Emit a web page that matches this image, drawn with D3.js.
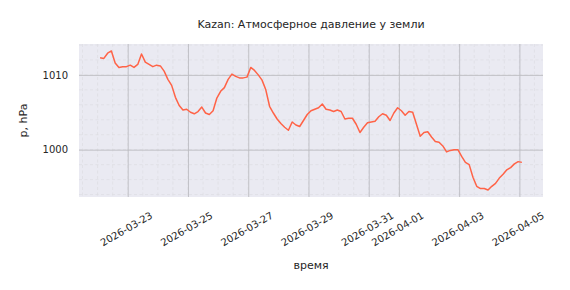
<!DOCTYPE html>
<html lang="ru">
<head>
    <meta charset="UTF-8">
    <title>Kazan</title>
    <script src="https://d3js.org/d3.v7.min.js"></script>
    <style>
        body { margin: 0; background: #fff; }
        text { font-family: "DejaVu Sans", sans-serif; fill: #262626; }
    </style>
</head>
<body>
    <div id="chart"></div>

    <script>
        // данные: давление каждые 3 часа, начиная с 2026-03-22 02:00 UTC
        var startTime = "2026-03-22T02:00:00Z";
        var stepHours = 3;
        var pressure = [
            1012.3, 1012.2, 1012.9, 1013.2, 1011.6, 1011.0, 1011.1, 1011.1, 1011.3, 1011.0,
            1011.4, 1012.8, 1011.7, 1011.4, 1011.1, 1011.3, 1011.2, 1010.5, 1009.4, 1008.6,
            1007.0, 1005.9, 1005.3, 1005.4, 1005.0, 1004.8, 1005.1, 1005.7, 1004.9, 1004.7,
            1005.2, 1006.9, 1007.8, 1008.3, 1009.4, 1010.1, 1009.8, 1009.6, 1009.6, 1009.7,
            1011.0, 1010.6, 1010.0, 1009.3, 1008.0, 1005.8, 1004.9, 1004.1, 1003.5, 1003.0,
            1002.6, 1003.7, 1003.3, 1003.1, 1003.9, 1004.7, 1005.2, 1005.4, 1005.6, 1006.1,
            1005.4, 1005.3, 1005.1, 1005.3, 1005.1, 1004.1, 1004.2, 1004.2, 1003.4, 1002.3,
            1003.0, 1003.6, 1003.7, 1003.8, 1004.4, 1004.8, 1004.6, 1003.9, 1004.9, 1005.6,
            1005.2, 1004.6, 1005.1, 1005.0, 1003.4, 1001.8, 1002.3, 1002.4, 1001.7, 1001.1,
            1001.0, 1000.5, 999.7, 999.9, 1000.0, 1000.0, 999.1, 998.3, 998.0, 996.3,
            995.1, 994.8, 994.8, 994.6, 995.1, 995.5, 996.2, 996.7, 997.3, 997.6,
            998.1, 998.4, 998.3
        ];
        var xTickLabels = ["2026-03-23", "2026-03-25", "2026-03-27", "2026-03-29",
                           "2026-03-31", "2026-04-01", "2026-04-03", "2026-04-05"];
        var yTicks = [1000, 1010];
        var yMinorStep = 2;
        var xMinorHours = 12;

        var width = 570, height = 290;
        var margin = { top: 44, right: 27, bottom: 93, left: 79 };
        var innerW = width - margin.left - margin.right;
        var innerH = height - margin.top - margin.bottom;

        var t0 = new Date(startTime).getTime();
        var data = pressure.map(function(p, i) {
            return { t: new Date(t0 + i * stepHours * 3600000), p: p };
        });

        // отступ 5% как в matplotlib
        var tExt = d3.extent(data, function(d) { return d.t; });
        var tPad = (tExt[1] - tExt[0]) * 0.05;
        var pExt = d3.extent(data, function(d) { return d.p; });
        var pPad = (pExt[1] - pExt[0]) * 0.05;

        var x = d3.scaleUtc()
            .domain([new Date(+tExt[0] - tPad), new Date(+tExt[1] + tPad)])
            .range([0, innerW]);
        var y = d3.scaleLinear()
            .domain([pExt[0] - pPad, pExt[1] + pPad])
            .range([innerH, 0]);

        var svg = d3.select("#chart")
            .append("svg")
            .attr("width", width)
            .attr("height", height);

        var g = svg.append("g")
            .attr("transform", "translate(" + margin.left + "," + margin.top + ")");

        g.append("rect")
            .attr("width", innerW)
            .attr("height", innerH)
            .attr("fill", "#eaeaf2");

        // малая сетка
        var minorX = d3.utcHour.every(xMinorHours).range(x.domain()[0], x.domain()[1]);
        var minorY = d3.range(Math.ceil(y.domain()[0] / yMinorStep) * yMinorStep, y.domain()[1], yMinorStep);

        g.selectAll(".minor-x")
            .data(minorX)
            .enter()
            .append("line")
            .attr("x1", function(d) { return x(d); })
            .attr("x2", function(d) { return x(d); })
            .attr("y1", 0)
            .attr("y2", innerH)
            .attr("stroke", "#dcdce3")
            .attr("stroke-width", 0.7)
            .attr("stroke-dasharray", "3,2.5");

        g.selectAll(".minor-y")
            .data(minorY)
            .enter()
            .append("line")
            .attr("x1", 0)
            .attr("x2", innerW)
            .attr("y1", function(d) { return y(d); })
            .attr("y2", function(d) { return y(d); })
            .attr("stroke", "#dcdce3")
            .attr("stroke-width", 0.7)
            .attr("stroke-dasharray", "3,2.5");

        // основная сетка
        var xTicks = xTickLabels.map(function(s) { return new Date(s + "T00:00:00Z"); });

        var xAxis = d3.axisBottom(x)
            .tickValues(xTicks)
            .tickSize(-innerH)
            .tickPadding(0)
            .tickFormat(d3.utcFormat("%Y-%m-%d"));

        var yAxis = d3.axisLeft(y)
            .tickValues(yTicks)
            .tickSize(-innerW)
            .tickPadding(11)
            .tickFormat(d3.format("d"));

        var gx = g.append("g")
            .attr("transform", "translate(0," + innerH + ")")
            .call(xAxis);
        var gy = g.append("g").call(yAxis);

        [gx, gy].forEach(function(a) {
            a.select(".domain").remove();
            a.selectAll(".tick line")
                .attr("stroke", "#bcbcc2")
                .attr("stroke-width", 0.9);
            a.selectAll(".tick text")
                .attr("fill", "#262626")
                .style("font-size", "10px");
        });

        gx.selectAll(".tick text")
            .attr("text-anchor", "middle")
            .attr("dy", 0)
            .attr("y", 0)
            .attr("transform", "translate(0,35) rotate(-30)");

        var line = d3.line()
            .x(function(d) { return x(d.t); })
            .y(function(d) { return y(d.p); });

        g.append("path")
            .datum(data)
            .attr("d", line)
            .attr("fill", "none")
            .attr("stroke", "#ff6347")
            .attr("stroke-width", 1.5)
            .attr("stroke-linejoin", "round");

        // подписи
        svg.append("text")
            .attr("x", margin.left + innerW / 2)
            .attr("y", 28)
            .attr("text-anchor", "middle")
            .style("font-size", "11px")
            .text("Kazan: Атмосферное давление у земли");

        svg.append("text")
            .attr("x", margin.left + innerW / 2)
            .attr("y", 269)
            .attr("text-anchor", "middle")
            .style("font-size", "11px")
            .text("время");

        svg.append("text")
            .attr("transform", "translate(27," + (margin.top + innerH / 2) + ") rotate(-90)")
            .attr("text-anchor", "middle")
            .style("font-size", "11px")
            .text("p, hPa");
    </script>
</body>
</html>
